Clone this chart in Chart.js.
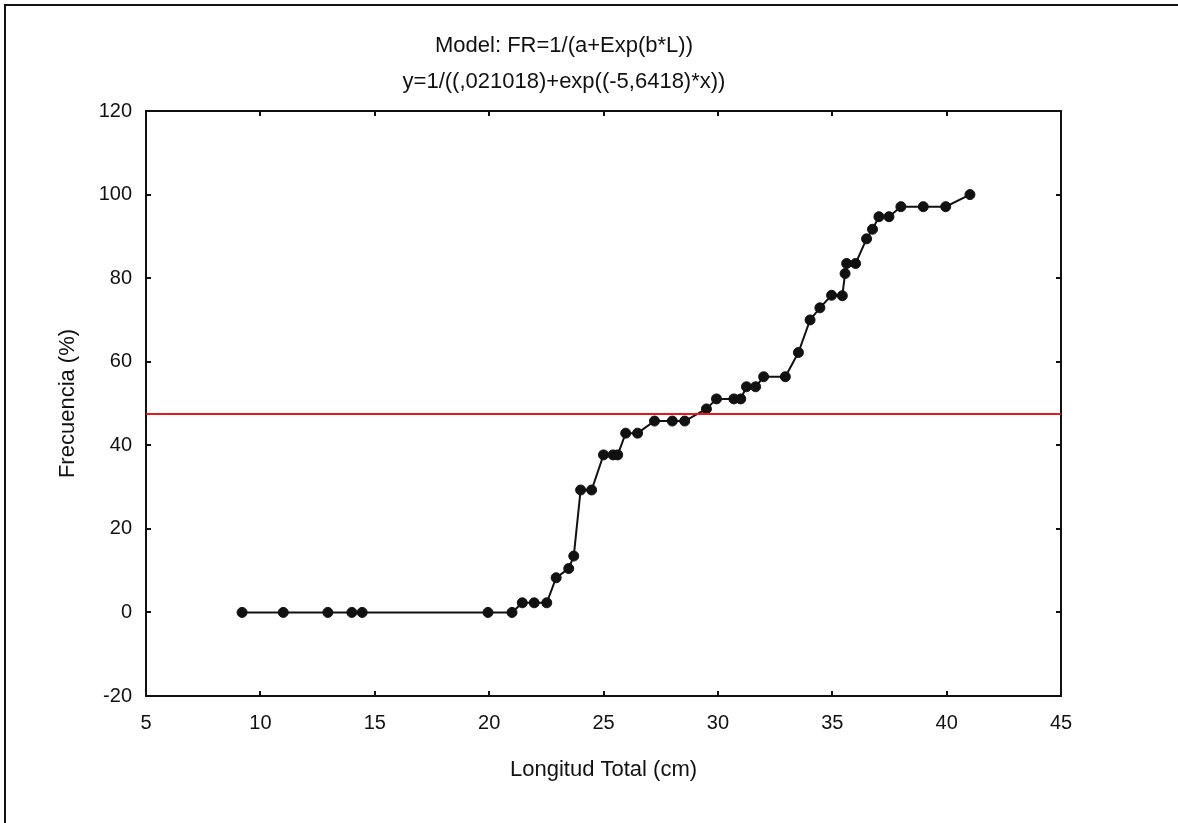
<!DOCTYPE html>
<html>
<head>
<meta charset="utf-8">
<script src="https://cdn.jsdelivr.net/npm/chart.js@4.4.1/dist/chart.umd.min.js"></script>
<style>
    body { margin: 0; background: #fff; }
    .frame { position: absolute; left: 4px; top: 4px; width: 1200px; height: 900px;
             border-top: 2px solid #111; border-left: 2px solid #111; }
    #chart { position: absolute; left: 0; top: 0; }
</style>
</head>
<body>
<div class="frame"></div>
<canvas id="chart" width="1178" height="823"></canvas>
<script>
// Longitud total (cm) vs frecuencia acumulada (%)
const lengths = [9.2, 11.0, 12.95, 14.0, 14.45, 19.95, 21.0, 21.45, 21.97, 22.52, 22.93, 23.48, 23.7,
    24.0, 24.48, 25.0, 25.42, 25.62, 25.97, 26.49, 27.23, 28.01, 28.55, 29.5, 29.94, 30.7, 31.0,
    31.25, 31.65, 32.0, 32.95, 33.52, 34.03, 34.46, 34.97, 35.44, 35.56, 35.63, 36.02, 36.5, 36.76,
    37.04, 37.48, 38.0, 38.98, 39.96, 41.02];
const frequency = [0, 0, 0, 0, 0, 0, 0, 2.3, 2.3, 2.3, 8.3, 10.5, 13.5,
    29.3, 29.3, 37.7, 37.7, 37.7, 42.9, 42.9, 45.8, 45.8, 45.8, 48.7, 51.1, 51.1, 51.1,
    54.0, 54.0, 56.4, 56.4, 62.2, 70.0, 72.9, 75.9, 75.8, 81.1, 83.5, 83.5, 89.4, 91.7,
    94.7, 94.7, 97.1, 97.1, 97.1, 100];
const threshold = 47.5;

const xRange = [5, 45];
const yRange = [-20, 120];
const titleLines = ['Model: FR=1/(a+Exp(b*L))', 'y=1/((,021018)+exp((-5,6418)*x))'];

const INK = '#111';
const FONT = "'Liberation Sans', Arial, sans-serif";

const points = lengths.map((x, i) => ({ x: x, y: frequency[i] }));
const refLine = xRange.map(x => ({ x: x, y: threshold }));

// frame axes: border + short inward ticks
function frameAxis(position, range, step, extra) {
    return Object.assign({
        type: 'linear', position: position, min: range[0], max: range[1],
        border: { display: true, color: INK, width: 2 },
        grid: { drawOnChartArea: false, drawTicks: true, tickLength: -5, color: INK, lineWidth: 2 },
        ticks: { stepSize: step, color: INK, font: { family: FONT, size: 20 } }
    }, extra);
}

new Chart(document.getElementById('chart'), {
    type: 'line',
    data: {
        datasets: [
            {
                data: refLine, borderColor: '#e8171c', borderWidth: 2,
                pointRadius: 0, tension: 0
            },
            {
                data: points, borderColor: INK, borderWidth: 2,
                pointRadius: 5, pointBackgroundColor: INK, pointBorderColor: INK,
                pointBorderWidth: 1, tension: 0
            }
        ]
    },
    options: {
        responsive: false,
        animation: false,
        layout: { padding: { left: 67, right: 117, top: 0, bottom: 0 } },
        plugins: {
            legend: { display: false },
            tooltip: { enabled: false },
            title: {
                display: true, text: titleLines, color: INK,
                font: { family: FONT, size: 22, weight: 'normal', lineHeight: 36 / 22 },
                padding: { top: 28, bottom: 11 }
            }
        },
        scales: {
            x: frameAxis('bottom', xRange, 5, {
                afterFit: s => { s.height = 127; },
                title: { display: true, text: 'Longitud Total (cm)', color: INK,
                         font: { family: FONT, size: 22 }, padding: { top: 0, bottom: 40 } }
            }),
            y: frameAxis('left', yRange, 20, {
                afterFit: s => { s.width = 79; },
                title: { display: true, text: 'Frecuencia (%)', color: INK,
                         font: { family: FONT, size: 22 }, padding: { top: -12, bottom: 0 } }
            }),
            x2: frameAxis('top', xRange, 5, { afterFit: s => { s.height = 0; } }),
            y2: frameAxis('right', yRange, 20, { afterFit: s => { s.width = 0; } })
        }
    }
});

// label paddings account for the negative tick length
const chart = Chart.getChart('chart');
chart.options.scales.x.ticks.padding = 20;
chart.options.scales.y.ticks.padding = 19;
chart.options.scales.x2.ticks.display = false;
chart.options.scales.y2.ticks.display = false;
chart.update();
</script>
</body>
</html>
